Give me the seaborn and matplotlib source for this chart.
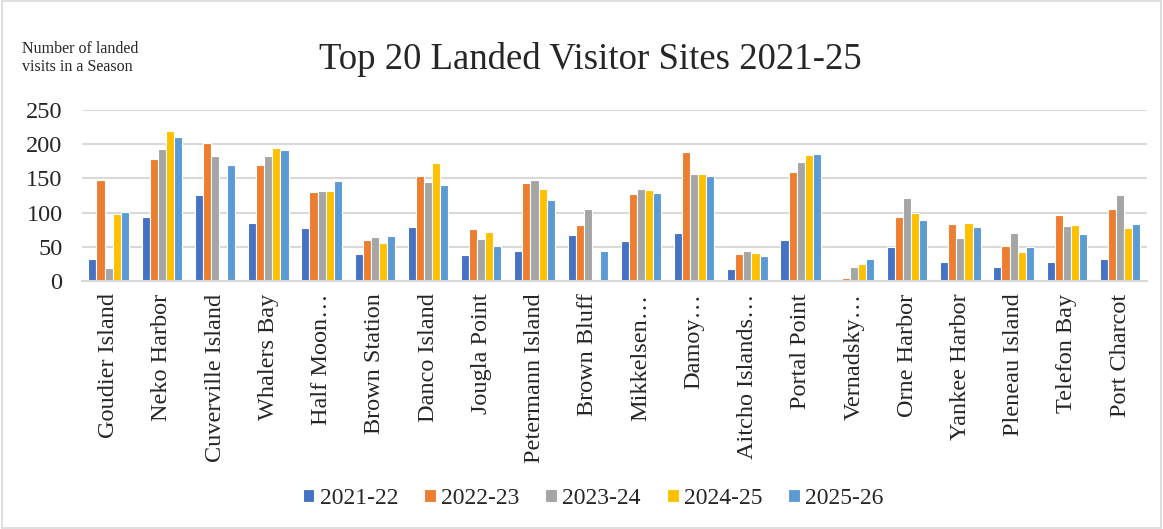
import matplotlib
matplotlib.use("Agg")
import matplotlib.pyplot as plt
import seaborn as sns
import pandas as pd
from matplotlib.patches import Rectangle

sites = ["Goudier Island", "Neko Harbor", "Cuverville Island", "Whalers Bay", "Half Moon…",
         "Brown Station", "Danco Island", "Jougla Point", "Petermann Island", "Brown Bluff",
         "Mikkelsen…", "Damoy…", "Aitcho Islands…", "Portal Point", "Vernadsky…",
         "Orne Harbor", "Yankee Harbor", "Pleneau Island", "Telefon Bay", "Port Charcot"]
seasons = ["2021-22", "2022-23", "2023-24", "2024-25", "2025-26"]

s2021_22 = [32, 94, 126, 84, 77, 39, 79, 38, 44, 67, 58, 70, 17, 60, 2, 49, 28, 20, 28, 32]
s2022_23 = [148, 179, 202, 169, 130, 60, 153, 76, 143, 82, 127, 188, 39, 159, 4, 94, 83, 51, 96, 105]
s2023_24 = [19, 193, 183, 183, 132, 64, 145, 61, 148, 105, 135, 156, 44, 174, 21, 121, 63, 70, 81, 126]
s2024_25 = [98, 220, 0, 194, 132, 56, 173, 71, 135, 0, 133, 156, 41, 184, 25, 100, 84, 43, 82, 78]
s2025_26 = [101, 210, 169, 191, 146, 66, 140, 51, 118, 44, 128, 153, 37, 185, 32, 89, 79, 50, 69, 83]

colors = ["#4472C4", "#ED7D31", "#A5A5A5", "#FFC000", "#5B9BD5"]

series = [s2021_22, s2022_23, s2023_24, s2024_25, s2025_26]
rows = []
for season, vals in zip(seasons, series):
    for site, v in zip(sites, vals):
        rows.append({"site": site, "season": season, "visits": v})
df = pd.DataFrame(rows)

sns.set_style("white")
plt.rcParams["font.family"] = ["Liberation Serif", "DejaVu Serif"]

fig = plt.figure(figsize=(11.63, 5.29), dpi=100)
ax = fig.add_axes([0.0705, 0.469, 0.9155, 0.323])

sns.barplot(data=df, x="site", y="visits", hue="season", hue_order=seasons,
            order=sites, palette=colors, width=0.76, edgecolor="white",
            linewidth=0.8, saturation=1, ax=ax, legend=True)

ax.set_ylim(0, 250)
ax.set_yticks([0, 50, 100, 150, 200, 250])
ax.set_xlim(-0.5, len(sites) - 0.5)
ax.yaxis.grid(True, color="#D9D9D9", linewidth=1.5)
ax.set_axisbelow(True)
for s in ["top", "right", "left"]:
    ax.spines[s].set_visible(False)
ax.spines["bottom"].set_color("#D9D9D9")
ax.spines["bottom"].set_linewidth(1.5)
ax.tick_params(axis="both", length=0)
ax.tick_params(axis="y", labelsize=17.5, pad=14)
ax.tick_params(axis="x", labelsize=17.5, pad=9)
plt.setp(ax.get_xticklabels(), rotation=90)
ax.set_xlabel("")
ax.set_ylabel("")

handles, labels = ax.get_legend_handles_labels()
ax.get_legend().remove()
fig.legend(handles, labels, loc="center", bbox_to_anchor=(0.510, 0.058), ncol=5,
           frameon=False, fontsize=17, handlelength=0.5, handleheight=0.5,
           handletextpad=0.22, columnspacing=1.1)

fig.text(0.508, 0.888, "Top 20 Landed Visitor Sites 2021-25", ha="center", va="center",
         fontsize=26.5)
fig.text(0.019, 0.89, "Number of landed\nvisits in a Season", ha="left", va="center",
         fontsize=11.5, linespacing=1.15)

fig.patches.append(Rectangle((0.002, 0.002), 0.996, 0.996, transform=fig.transFigure,
                             fill=False, edgecolor="#D9D9D9", linewidth=1.2))

fig.savefig("out.png", dpi=100, facecolor="white")
